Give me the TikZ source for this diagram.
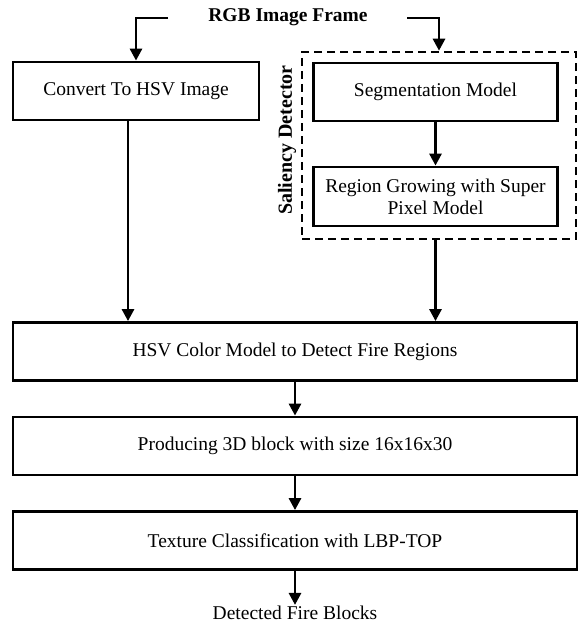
\documentclass[tikz,border=0pt]{standalone}
\usepackage{fontspec}
\setmainfont{Liberation Serif}
\usetikzlibrary{arrows.meta}

\tikzset{
	flowpicture/.style = {
		x = 1pt,
		y = -1pt,
		font = \fontsize{19.5}{22}\selectfont,
		arrow/.style = {
			draw,
			line width = 2.8pt,
			-{Triangle[width=12pt,length=12pt]},
		}
	},
	flowbox/.style = {
		rectangle,
		draw = black,
		line width = 2.8pt,
		inner sep = 0pt,
		align = center
	},
	wide/.style = {
		flowbox,
		minimum width = 564pt,
		minimum height = 58pt
	},
	half/.style = {
		flowbox,
		minimum width = 244pt,
		minimum height = 58pt
	},
	saliency/.style = {
		rectangle,
		draw = black,
		line width = 2.6pt,
		dash pattern = on 8pt off 5pt,
		minimum width = 274pt,
		minimum height = 187pt
	},
	boldlabel/.style = {
		font = \fontsize{19.5}{22}\selectfont\bfseries
	}
}

\begin{document}
\begin{tikzpicture}[flowpicture]
	\useasboundingbox (0,0) rectangle (579,626);

	\node[boldlabel] (title) at (288,17) {RGB Image Frame};
	\node[half, minimum width = 246pt] (convert) at (136,91) {Convert To HSV Image};
	\node[saliency] (sal) at (439,145.5) {};
	\node[boldlabel, font = \fontsize{20}{23}\selectfont\bfseries, rotate = 90] (sallabel) at (287,140) {Saliency Detector};
	\node[half] (seg) at (435.5,92) {Segmentation Model};
	\node[half, minimum height = 59pt] (region) at (435.5,196.5) {Region Growing with Super\\Pixel Model};
	\node[wide] (hsv) at (295,351.5) {HSV Color Model to Detect Fire Regions};
	\node[wide] (block) at (295,446) {Producing 3D block with size 16x16x30};
	\node[wide] (texture) at (295,540.5) {Texture Classification with LBP-TOP};
	\node[inner sep = 1pt] (out) at (295,613) {Detected Fire Blocks};

	\coordinate (lstart) at (168,18);
	\coordinate (rstart) at (407,18);

	\begin{scope}[every path/.style = arrow]
		\path (lstart) -| (convert.north);
		\path (rstart) -| (sal.north);
		\path (seg) -- (region);
		\path ([xshift=-8pt]convert.south) -- ([xshift=-8pt]convert.south |- hsv.north);
		\path (region.south |- sal.south) -- (region.south |- hsv.north);
		\path (hsv) -- (block);
		\path (block) -- (texture);
		\path (texture) -- (out);
	\end{scope}
\end{tikzpicture}
\end{document}
